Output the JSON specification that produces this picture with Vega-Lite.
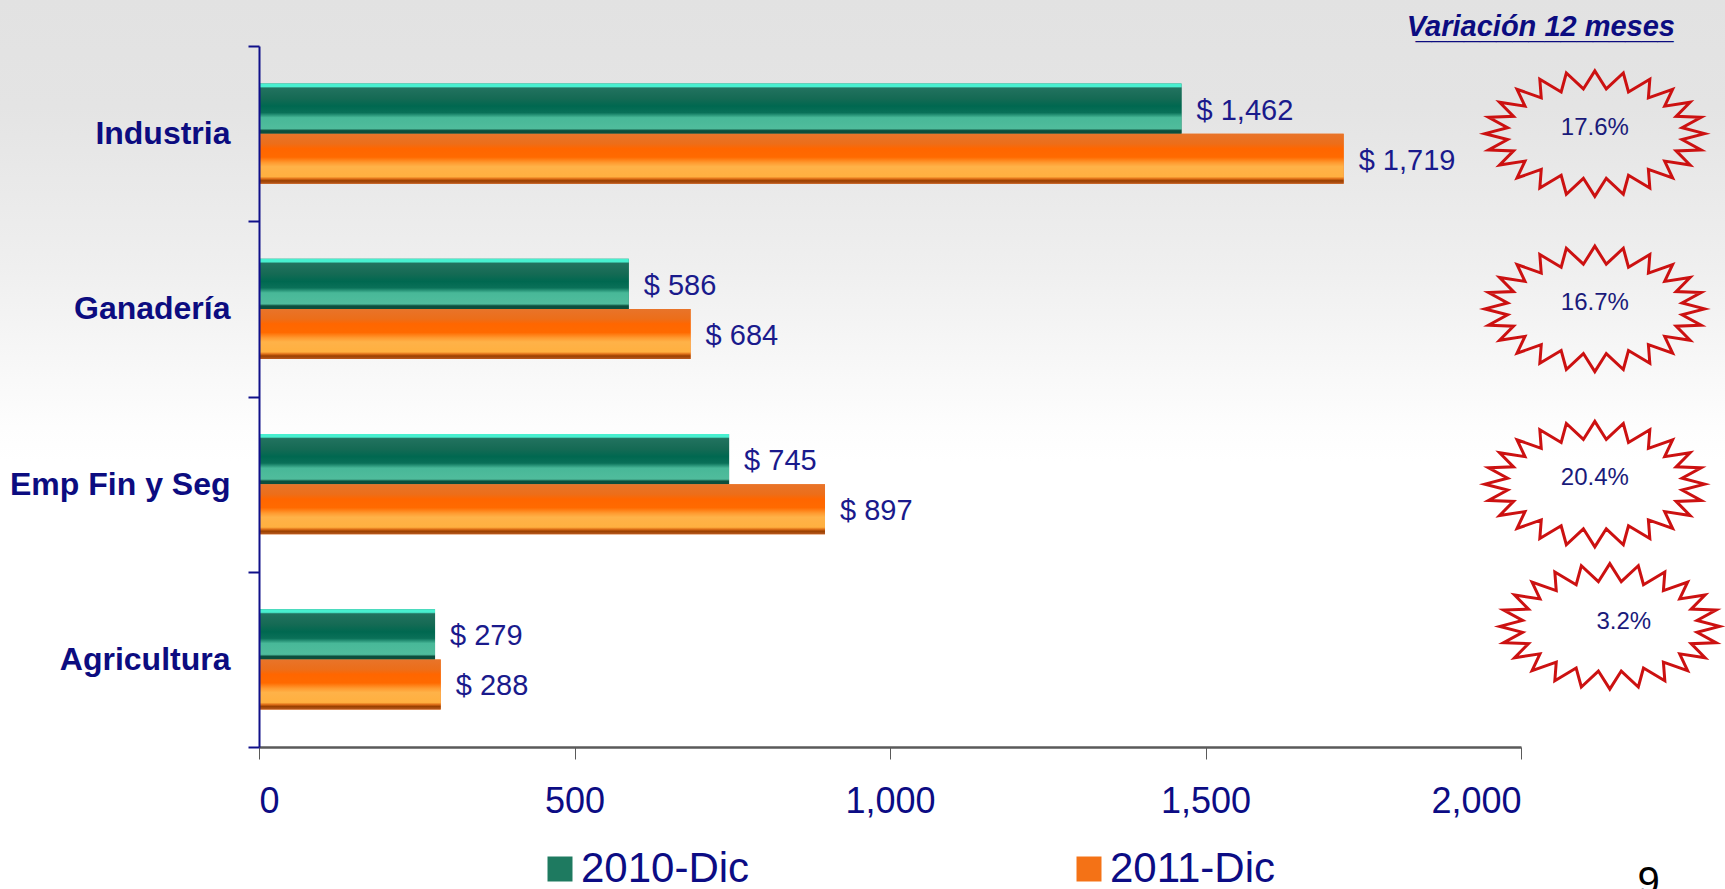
{
  "$schema": "https://vega.github.io/schema/vega-lite/v6.json",
  "autosize": "none",
  "width": 1725,
  "height": 889,
  "padding": 0,
  "background": "#ffffff",
  "title": {
    "text": ["Variación 12 meses", "________________"],
    "anchor": "end",
    "frame": "group",
    "orient": "top",
    "dx": -50,
    "dy": 61,
    "offset": 0,
    "lineHeight": 3,
    "font": "Liberation Sans",
    "fontSize": 29,
    "fontWeight": "bold",
    "fontStyle": "italic",
    "color": "#0c0c80"
  },
  "datasets": {
    "montos": [
      {"categoria": "Industria", "serie": "2010-Dic", "valor": 1462, "etiqueta": "$ 1,462"},
      {"categoria": "Industria", "serie": "2011-Dic", "valor": 1719, "etiqueta": "$ 1,719"},
      {"categoria": "Ganadería", "serie": "2010-Dic", "valor": 586, "etiqueta": "$ 586"},
      {"categoria": "Ganadería", "serie": "2011-Dic", "valor": 684, "etiqueta": "$ 684"},
      {"categoria": "Emp Fin y Seg", "serie": "2010-Dic", "valor": 745, "etiqueta": "$ 745"},
      {"categoria": "Emp Fin y Seg", "serie": "2011-Dic", "valor": 897, "etiqueta": "$ 897"},
      {"categoria": "Agricultura", "serie": "2010-Dic", "valor": 279, "etiqueta": "$ 279"},
      {"categoria": "Agricultura", "serie": "2011-Dic", "valor": 288, "etiqueta": "$ 288"}
    ],
    "variacion": [
      {"categoria": "Industria", "variacion": "17.6%"},
      {"categoria": "Ganadería", "variacion": "16.7%"},
      {"categoria": "Emp Fin y Seg", "variacion": "20.4%"},
      {"categoria": "Agricultura", "variacion": "3.2%"}
    ]
  },
  "layer": [
    {
      "data": {"name": "montos"},
      "mark": {"type": "bar"},
      "encoding": {
        "y": {
          "field": "categoria", "type": "nominal",
          "sort": ["Industria", "Ganadería", "Emp Fin y Seg", "Agricultura"],
          "scale": {"range": [46, 747], "paddingInner": 0, "paddingOuter": 0},
          "axis": {
            "title": null,
            "offset": -259,
            "tickBand": "extent",
            "domainColor": "#10108a", "domainWidth": 2,
            "tickColor": "#10108a", "tickWidth": 2, "tickSize": 11,
            "labelFont": "Liberation Sans", "labelFontSize": 32, "labelFontWeight": "bold",
            "labelColor": "#0c0c80", "labelPadding": 18, "labelLimit": 400,
            "zindex": 1
          }
        },
        "yOffset": {"field": "serie", "type": "nominal", "scale": {"domain": ["2010-Dic", "2011-Dic"], "paddingInner": 0, "paddingOuter": 0.75}},
        "x": {
          "field": "valor", "type": "quantitative",
          "scale": {"domain": [0, 2000], "nice": false, "range": [259, 1521]},
          "axis": {
            "offset": -142,
            "values": [0, 500, 1000, 1500, 2000],
            "format": ",d",
            "grid": false,
            "domainColor": "#5a5a5a", "domainWidth": 2.5,
            "tickColor": "#5a5a5a", "tickWidth": 1, "tickSize": 12,
            "labelFont": "Liberation Sans", "labelFontSize": 36, "labelColor": "#0c0c84",
            "labelPadding": 25,
            "title": "9",
            "titleX": 1648, "titleY": 147, "titleAlign": "center", "titleBaseline": "alphabetic",
            "titleFont": "Liberation Sans", "titleFontSize": 40, "titleFontWeight": "normal", "titleColor": "#000000",
            "zindex": 1
          }
        },
        "color": {
          "field": "serie", "type": "nominal",
          "scale": {"domain": ["2010-Dic", "2011-Dic"], "range": ["#1e7a60", "#f47216"]},
          "legend": {
            "orient": "none", "legendX": 539, "legendY": 848,
            "direction": "horizontal", "title": null,
            "symbolType": "square", "symbolSize": 625, "symbolStrokeWidth": 0,
            "labelFont": "Liberation Sans", "labelFontSize": 42, "labelColor": "#0c0c84",
            "labelOffset": 0, "columnPadding": 318, "labelLimit": 400, "padding": 0
          }
        }
      }
    },
    {
      "data": {"name": "montos"},
      "transform": [{"filter": "datum.serie === '2010-Dic'"}],
      "mark": {
        "type": "bar",
        "fill": {
          "gradient": "linear", "x1": 0, "y1": 0, "x2": 0, "y2": 1,
          "stops": [
            {"offset": 0, "color": "#48f0d0"},
            {"offset": 0.06, "color": "#48f0d0"},
            {"offset": 0.09, "color": "#22725f"},
            {"offset": 0.3, "color": "#156a54"},
            {"offset": 0.45, "color": "#006850"},
            {"offset": 0.58, "color": "#0a7058"},
            {"offset": 0.68, "color": "#48b898"},
            {"offset": 0.9, "color": "#50bc9c"},
            {"offset": 0.94, "color": "#0c4e3c"},
            {"offset": 1, "color": "#0c4e3c"}
          ]
        }
      },
      "encoding": {
        "y": {"field": "categoria", "type": "nominal", "sort": ["Industria", "Ganadería", "Emp Fin y Seg", "Agricultura"]},
        "yOffset": {"field": "serie", "type": "nominal"},
        "x": {"field": "valor", "type": "quantitative"}
      }
    },
    {
      "data": {"name": "montos"},
      "transform": [{"filter": "datum.serie === '2011-Dic'"}],
      "mark": {
        "type": "bar",
        "fill": {
          "gradient": "linear", "x1": 0, "y1": 0, "x2": 0, "y2": 1,
          "stops": [
            {"offset": 0, "color": "#e8742a"},
            {"offset": 0.2, "color": "#ec6e1a"},
            {"offset": 0.3, "color": "#ff6600"},
            {"offset": 0.47, "color": "#ff6a00"},
            {"offset": 0.58, "color": "#ff9a30"},
            {"offset": 0.66, "color": "#ffb248"},
            {"offset": 0.86, "color": "#ffb040"},
            {"offset": 0.9, "color": "#e07018"},
            {"offset": 0.94, "color": "#9a4000"},
            {"offset": 1, "color": "#b85a20"}
          ]
        }
      },
      "encoding": {
        "y": {"field": "categoria", "type": "nominal", "sort": ["Industria", "Ganadería", "Emp Fin y Seg", "Agricultura"]},
        "yOffset": {"field": "serie", "type": "nominal"},
        "x": {"field": "valor", "type": "quantitative"}
      }
    },
    {
      "data": {"name": "montos"},
      "mark": {"type": "text", "align": "left", "baseline": "middle", "dx": 15, "dy": 2, "font": "Liberation Sans", "fontSize": 29, "color": "#1a1a8c"},
      "encoding": {
        "y": {"field": "categoria", "type": "nominal", "sort": ["Industria", "Ganadería", "Emp Fin y Seg", "Agricultura"]},
        "yOffset": {"field": "serie", "type": "nominal"},
        "x": {"field": "valor", "type": "quantitative"},
        "text": {"field": "etiqueta"}
      }
    },
    {
      "data": {"name": "variacion"},
      "transform": [{"filter": "datum.categoria !== 'Agricultura'"}],
      "mark": {
        "type": "point",
        "shape": "M1,0L.793,.054L.966,.148L.739,.157L.866,.285L.635,.25L.707,.403L.487,.325L.5,.494L.306,.379L.259,.551L.104,.406L0,.57L-.104,.406L-.259,.551L-.306,.379L-.5,.494L-.487,.325L-.707,.403L-.635,.25L-.866,.285L-.739,.157L-.966,.148L-.793,.054L-1,0L-.793,-.054L-.966,-.148L-.739,-.157L-.866,-.285L-.635,-.25L-.707,-.403L-.487,-.325L-.5,-.494L-.306,-.379L-.259,-.551L-.104,-.406L0,-.57L.104,-.406L.259,-.551L.306,-.379L.5,-.494L.487,-.325L.707,-.403L.635,-.25L.866,-.285L.739,-.157L.966,-.148L.793,-.054Z",
        "size": 48400,
        "filled": false,
        "stroke": "#cc1111",
        "strokeWidth": 3,
        "opacity": 1
      },
      "encoding": {
        "y": {"field": "categoria", "type": "nominal", "sort": ["Industria", "Ganadería", "Emp Fin y Seg", "Agricultura"]},
        "x": {"datum": 2117, "type": "quantitative"}
      }
    },
    {
      "data": {"name": "variacion"},
      "transform": [{"filter": "datum.categoria === 'Agricultura'"}],
      "mark": {
        "type": "point",
        "shape": "M1,0L.793,.054L.966,.148L.739,.157L.866,.285L.635,.25L.707,.403L.487,.325L.5,.494L.306,.379L.259,.551L.104,.406L0,.57L-.104,.406L-.259,.551L-.306,.379L-.5,.494L-.487,.325L-.707,.403L-.635,.25L-.866,.285L-.739,.157L-.966,.148L-.793,.054L-1,0L-.793,-.054L-.966,-.148L-.739,-.157L-.866,-.285L-.635,-.25L-.707,-.403L-.487,-.325L-.5,-.494L-.306,-.379L-.259,-.551L-.104,-.406L0,-.57L.104,-.406L.259,-.551L.306,-.379L.5,-.494L.487,-.325L.707,-.403L.635,-.25L.866,-.285L.739,-.157L.966,-.148L.793,-.054Z",
        "size": 48400,
        "filled": false,
        "stroke": "#cc1111",
        "strokeWidth": 3,
        "opacity": 1,
        "xOffset": 15,
        "yOffset": -33
      },
      "encoding": {
        "y": {"field": "categoria", "type": "nominal", "sort": ["Industria", "Ganadería", "Emp Fin y Seg", "Agricultura"]},
        "x": {"datum": 2117, "type": "quantitative"}
      }
    },
    {
      "data": {"name": "variacion"},
      "transform": [{"filter": "datum.categoria !== 'Agricultura'"}],
      "mark": {"type": "text", "align": "center", "baseline": "middle", "dy": -6, "font": "Liberation Sans", "fontSize": 24, "color": "#1a1a7a"},
      "encoding": {
        "y": {"field": "categoria", "type": "nominal", "sort": ["Industria", "Ganadería", "Emp Fin y Seg", "Agricultura"]},
        "x": {"datum": 2117, "type": "quantitative"},
        "text": {"field": "variacion"}
      }
    },
    {
      "data": {"name": "variacion"},
      "transform": [{"filter": "datum.categoria === 'Agricultura'"}],
      "mark": {"type": "text", "align": "center", "baseline": "middle", "dx": 29, "dy": -37, "font": "Liberation Sans", "fontSize": 24, "color": "#1a1a7a"},
      "encoding": {
        "y": {"field": "categoria", "type": "nominal", "sort": ["Industria", "Ganadería", "Emp Fin y Seg", "Agricultura"]},
        "x": {"datum": 2117, "type": "quantitative"},
        "text": {"field": "variacion"}
      }
    }
  ],
  "config": {
    "view": {
      "stroke": null,
      "fill": {
        "gradient": "linear", "x1": 0, "y1": 0, "x2": 0, "y2": 1,
        "stops": [
          {"offset": 0, "color": "#e2e2e2"},
          {"offset": 0.12, "color": "#e4e4e4"},
          {"offset": 0.3, "color": "#efefef"},
          {"offset": 0.48, "color": "#fdfdfd"},
          {"offset": 0.52, "color": "#ffffff"},
          {"offset": 1, "color": "#ffffff"}
        ]
      }
    }
  }
}
